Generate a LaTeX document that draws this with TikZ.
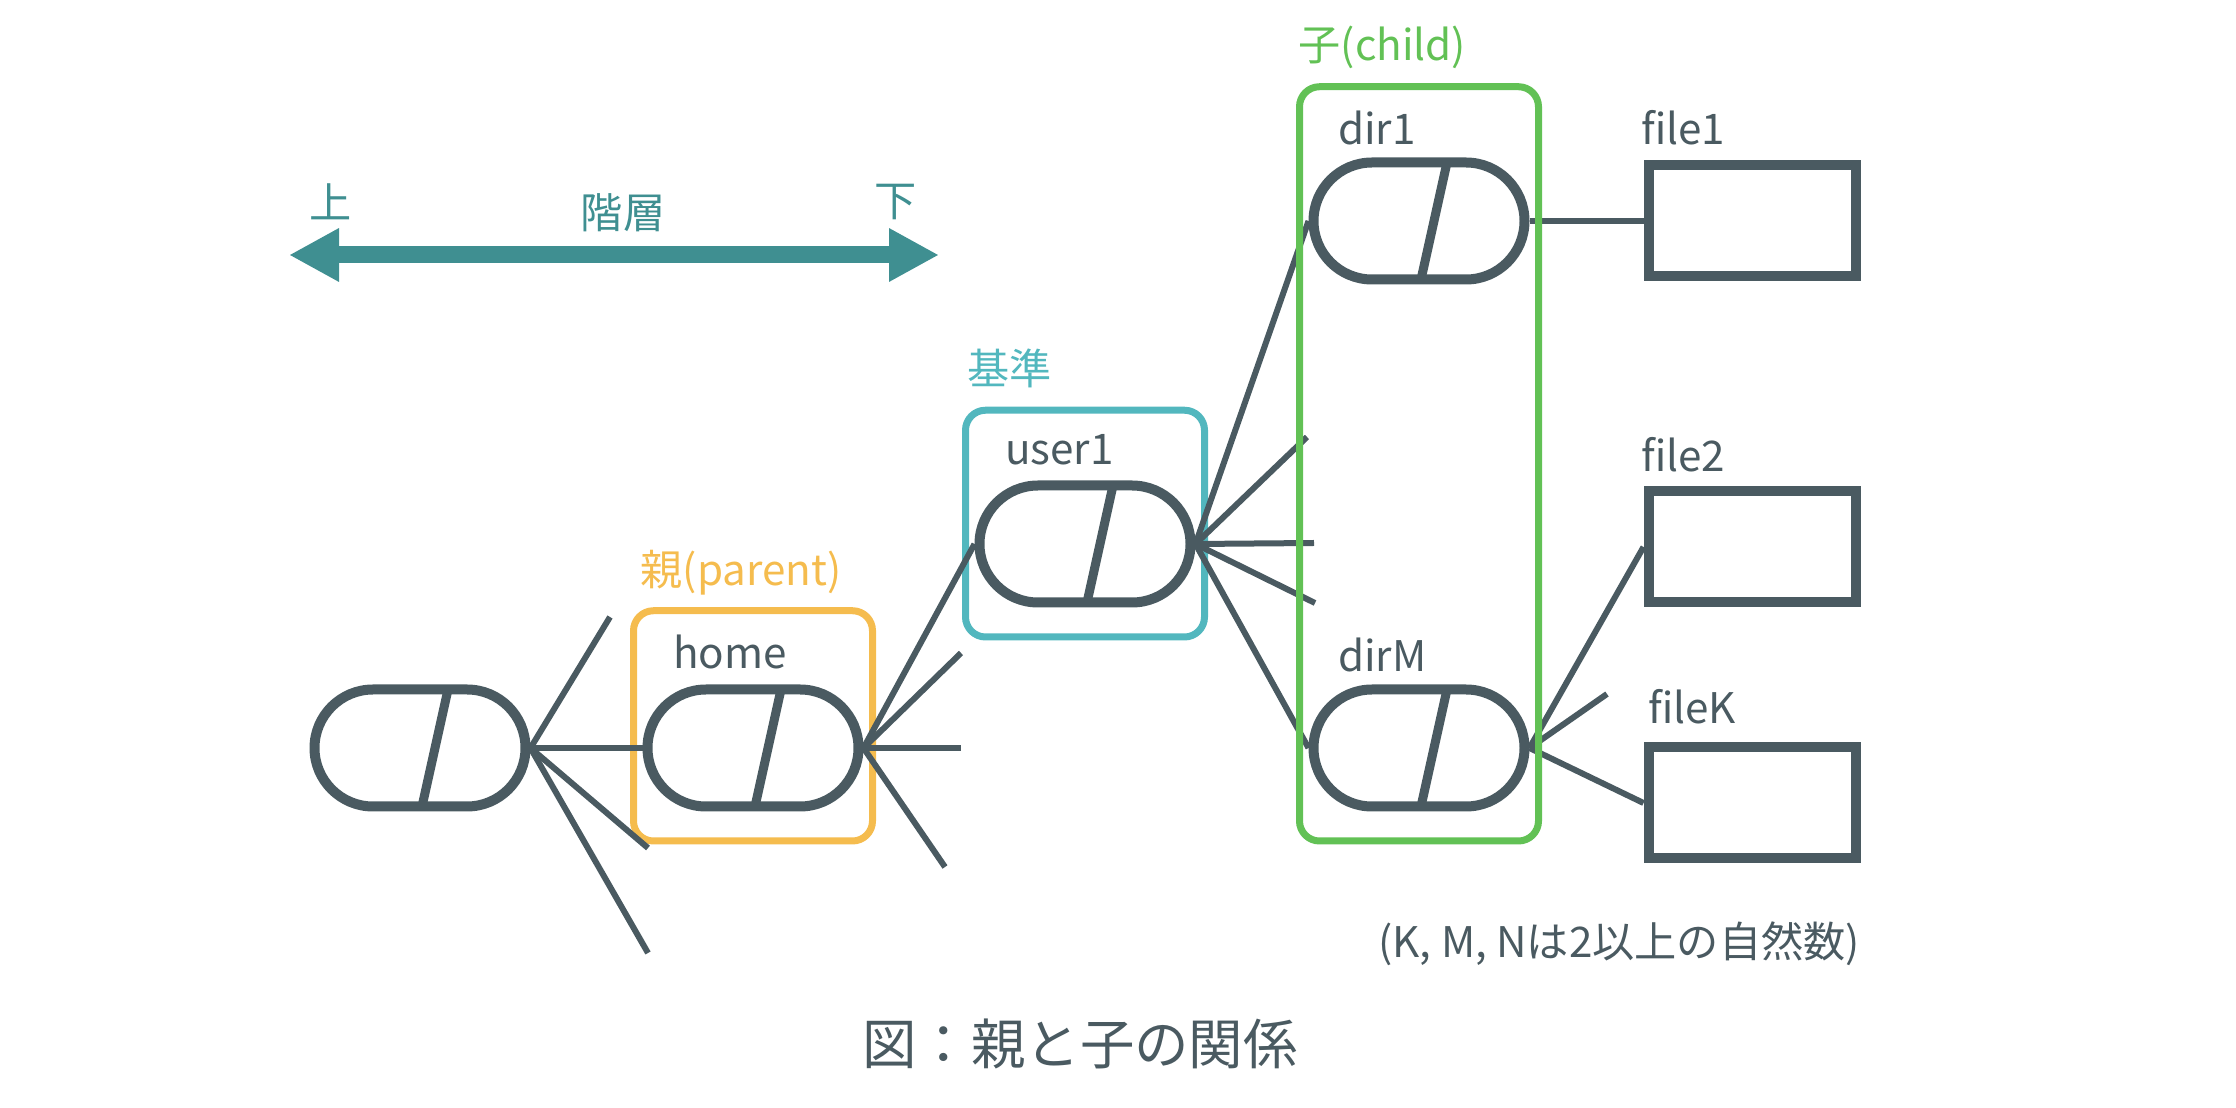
\documentclass[tikz,border=0pt]{standalone}
\usepackage{fontspec}
\setmainfont{Noto Sans CJK JP}
\usepackage{xcolor}
\definecolor{tgray}{HTML}{4A5A61}
\definecolor{tteal}{HTML}{3F8F91}
\definecolor{torange}{HTML}{F5BC4E}
\definecolor{tblue}{HTML}{52B7BE}
\definecolor{tgreen}{HTML}{62C155}
\usetikzlibrary{arrows.meta,positioning,fit,backgrounds,calc}

\begin{document}
\begin{tikzpicture}[
  font=\fontsize{12}{14}\selectfont,
  capsule/.style={rectangle,rounded corners=5.85mm,draw=tgray,line width=1mm,minimum width=21.1mm,minimum height=11.7mm,inner sep=0pt},
  filebox/.style={rectangle,draw=tgray,line width=1mm,minimum width=20.7mm,minimum height=11.1mm,inner sep=0pt},
  lbl/.style={text=tgray,anchor=base west,inner sep=0pt},
  tlbl/.style={text=tteal,inner sep=0pt},
  frame/.style={rectangle,rounded corners=2mm,line width=0.7mm,inner xsep=0.9mm,inner ysep=2.65mm,yshift=-0.3mm},
  link/.style={draw=tgray,line width=0.6mm},
  slash/.style={draw=tgray,line width=0.9mm},
  hier/.style={{Triangle[width=5mm,length=5mm]}-{Triangle[width=5mm,length=5mm]},draw=tteal,line width=1.7mm}
]
\useasboundingbox (0,0) rectangle (22.36,11.08);

% level arrow
\coordinate (up) at (2.89,8.53);
\coordinate (down) at (9.39,8.53);
\draw[hier] (up) -- (down);
\node[tlbl] (uplbl) at (3.31,9.06) {上};
\node[tlbl] (downlbl) at (8.96,9.06) {下};
\node[tlbl] (hierlbl) at (6.23,8.95) {階層};

% directories
\node[capsule] (root) at (4.20,3.60) {};
\node[capsule,right=11.2mm of root] (home) {};
\node[capsule] (user1) at (10.85,5.64) {};
\node[capsule] (dir1) at (14.19,8.87) {};
\node[capsule,below=40mm of dir1] (dirM) {};
\foreach \c in {root,home,user1,dir1,dirM}
  \draw[slash] ($(\c.north)+(2.8mm,-0.5mm)$) -- ($(\c.south)+(0.2mm,0.5mm)$);

% files
\node[filebox,right=11.4mm of dir1] (file1) {};
\node[filebox,below=20.5mm of file1] (file2) {};
\node[filebox,below=13.5mm of file2] (fileK) {};

\node[lbl] (homelbl) at ($(home.north west)+(3mm,1.6mm)$) {home};
\node[lbl] (user1lbl) at ($(user1.north west)+(3mm,1.6mm)$) {user1};
\node[lbl] (dir1lbl) at ($(dir1.north west)+(2.9mm,1.3mm)$) {dir1};
\node[lbl] (dirMlbl) at ($(dirM.north west)+(2.9mm,1.3mm)$) {dirM};
\node[lbl] (file1lbl) at ($(file1.north west)+(-0.3mm,1.6mm)$) {file1};
\node[lbl] (file2lbl) at ($(file2.north west)+(-0.3mm,1.5mm)$) {file2};
\node[lbl] (fileKlbl) at ($(fileK.north west)+(0.4mm,1.9mm)$) {fileK};

% frames
\begin{scope}[on background layer]
\node[frame,draw=torange,fit=(home)(homelbl)] (parent) {};
\node[frame,draw=tblue,fit=(user1)(user1lbl)] (base) {};
\end{scope}
\node[lbl,text=torange] (parentlbl) at ($(parent.north west)+(1mm,2.2mm)$) {親(parent)};
\node[lbl,text=tblue] (baselbl) at ($(base.north west)+(0.5mm,2.2mm)$) {基準};

% links
\coordinate (r1) at (6.10,4.91);
\coordinate (r2) at (6.48,2.60);
\coordinate (r3) at (6.48,1.55);
\coordinate (h1) at (9.61,4.55);
\coordinate (h2) at (9.61,3.60);
\coordinate (h3) at (9.45,2.41);
\coordinate (u1) at (13.07,6.71);
\coordinate (u2) at (13.14,5.65);
\coordinate (u3) at (13.15,5.05);
\coordinate (m1) at (16.07,4.14);
\draw[link] (root.east) -- (r1);
\draw[link] (root.east) -- (home.west);
\draw[link] (root.east) -- (r2);
\draw[link] (root.east) -- (r3);
\draw[link] (home.east) -- (user1.west);
\draw[link] (home.east) -- (h1);
\draw[link] (home.east) -- (h2);
\draw[link] (home.east) -- (h3);
\draw[link] (user1.east) -- (dir1.west);
\draw[link] (user1.east) -- (u1);
\draw[link] (user1.east) -- (u2);
\draw[link] (user1.east) -- (u3);
\draw[link] (user1.east) -- (dirM.west);
\draw[link] (dir1.east) -- (file1.west);
\draw[link] (dirM.east) -- (file2.west);
\draw[link] (dirM.east) -- (m1);
\draw[link] (dirM.east) -- (fileK.west);

\node[frame,draw=tgreen,fit=(dir1)(dir1lbl)(dirM)] (child) {};
\node[lbl,text=tgreen] (childlbl) at ($(child.north west)+(0.2mm,2.3mm)$) {子(child)};

\node[lbl,anchor=base east] (note) at ($(fileK.south east)+(0,-9.4mm)$) {(K, M, Nは2以上の自然数)};
\node[text=tgray,font=\fontsize{15.5}{18}\selectfont] (title) at (10.80,0.64) {図：親と子の関係};
\end{tikzpicture}
\end{document}
